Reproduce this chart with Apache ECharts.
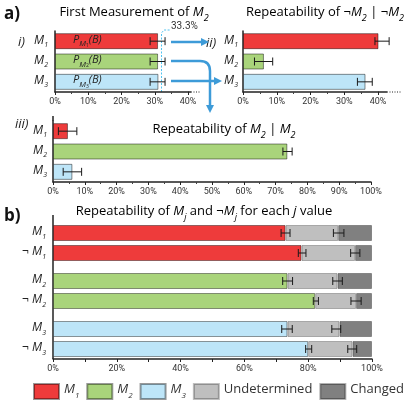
<!DOCTYPE html>
<html>
<head>
<meta charset="utf-8">
<script src="https://cdn.jsdelivr.net/npm/echarts@6/dist/echarts.min.js"></script>
<style>
  html, body { margin: 0; padding: 0; background: #fff; }
  #chart { width: 415px; height: 407px; }
</style>
</head>
<body>
<div id="chart"></div>
<script>
  // panel a) rows
  var rowsA = ['M1', 'M2', 'M3'];
  // i) first measurement of M2
  var firstVal = [31.0, 31.0, 31.1];
  var firstLow = [28.6, 28.6, 28.6];
  var firstHigh = [33.1, 33.1, 33.1];
  // ii) repeatability of notM2 | notM2
  var notVal = [41.4, 6.2, 36.3];
  var notLow = [39.1, 3.4, 33.9];
  var notHigh = [43.3, 8.8, 38.3];
  // iii) repeatability of M2 | M2
  var repVal = [4.7, 73.7, 6.1];
  var repLow = [1.7, 72.3, 3.2];
  var repHigh = [7.5, 75.2, 9.0];

  // panel b) rows
  var rowsB = ['M1', '¬M1', 'M2', '¬M2', 'M3', '¬M3'];
  var sameVal = [72.9, 77.9, 73.5, 82.2, 73.5, 80.0];
  var undetVal = [16.5, 16.8, 15.7, 12.8, 16.3, 13.9];
  var changedVal = [10.6, 5.3, 10.8, 5.0, 10.2, 6.1];
  var err1Low = [71.5, 76.9, 72.0, 81.6, 71.7, 79.2];
  var err1High = [74.3, 79.3, 75.1, 83.2, 75.0, 81.1];
  var err2Low = [87.9, 93.3, 87.7, 93.4, 87.4, 92.4];
  var err2High = [91.2, 96.2, 90.7, 96.6, 90.2, 95.2];

  var colorsM = ['#ee3b3b', '#a9d47b', '#bde5f8'];
  var colUndet = '#bfbfbf';
  var colChanged = '#808080';
  var font = 'Open Sans';

  var subRich = {
    n: { fontFamily: font, fontSize: 12, color: '#222', verticalAlign: 'top', lineHeight: 14 },
    m: { fontFamily: font, fontSize: 12, fontStyle: 'italic', color: '#222', verticalAlign: 'top', lineHeight: 14 },
    s: { fontFamily: font, fontSize: 7, fontStyle: 'italic', color: '#222', verticalAlign: 'bottom', lineHeight: 14 }
  };
  function fmtM(v) {
    var neg = v.charAt(0) === '¬';
    var s = neg ? v.slice(1) : v;
    return (neg ? '{n|¬ }' : '') + '{m|' + s.charAt(0) + '}{s|' + s.slice(1) + '}';
  }

  var myChart = echarts.init(document.getElementById('chart'));

  var grids = [
    { left: 55, top: 31, width: 133, height: 61 },
    { left: 243, top: 31, width: 135, height: 61 },
    { left: 53, top: 121, width: 318, height: 61 },
    { left: 53, top: 223, width: 319, height: 40 },
    { left: 53, top: 271, width: 319, height: 40 },
    { left: 53, top: 319, width: 319, height: 40 }
  ];

  function xAx(gi, max, show, every) {
    return {
      type: 'value', gridIndex: gi, min: 0, max: max, interval: 10,
      axisLine: { show: true, lineStyle: { color: '#222', width: 1.5 } },
      axisTick: { show: show, length: 3, lineStyle: { color: '#222' } },
      minorTick: { show: show && every === 10, splitNumber: 2, length: 2, lineStyle: { color: '#444' } },
      splitLine: { show: false },
      axisLabel: {
        show: show, margin: 5, fontSize: 9, fontFamily: 'Roboto', color: '#333',
        formatter: function (v) { return v % every === 0 ? v + '%' : ''; }
      }
    };
  }
  function yAx(gi, cats, margin, line) {
    return {
      type: 'category', gridIndex: gi, data: cats, inverse: true,
      axisLine: { show: line, lineStyle: { color: '#222', width: 1.5 } },
      axisTick: { show: false },
      axisLabel: { margin: margin, formatter: fmtM, rich: subRich }
    };
  }

  var xAxes = [
    xAx(0, 40, true, 10), xAx(1, 40, true, 10), xAx(2, 100, true, 10),
    xAx(3, 100, false, 20), xAx(4, 100, false, 20), xAx(5, 100, true, 20)
  ];
  xAxes[3].axisLine.show = false;
  xAxes[4].axisLine.show = false;
  var yAxes = [
    yAx(0, rowsA, 7, true), yAx(1, rowsA, 5, true), yAx(2, rowsA, 6, true),
    yAx(3, rowsB.slice(0, 2), 7, false), yAx(4, rowsB.slice(2, 4), 7, false), yAx(5, rowsB.slice(4, 6), 7, false)
  ];

  var border = { borderColor: 'rgba(0,0,0,0.45)', borderWidth: 1 };

  function colored(vals) {
    return vals.map(function (v, i) {
      return { value: v, itemStyle: { color: colorsM[i] } };
    });
  }
  function barA(name, gi, vals, label) {
    return {
      name: name, type: 'bar', xAxisIndex: gi, yAxisIndex: gi, barWidth: 16,
      data: colored(vals), itemStyle: border, silent: true, label: label || { show: false }
    };
  }
  function errSeries(gi, low, high) {
    return {
      type: 'custom', xAxisIndex: gi, yAxisIndex: gi, silent: true, z: 10,
      data: low.map(function (l, i) { return [i, l, high[i]]; }),
      encode: { x: [1, 2], y: 0 },
      renderItem: function (params, api) {
        var y = api.value(0);
        var a = api.coord([api.value(1), y]);
        var b = api.coord([api.value(2), y]);
        var h = 4;
        var st = { stroke: '#1a1a1a', lineWidth: 1 };
        return {
          type: 'group', children: [
            { type: 'line', shape: { x1: a[0], y1: a[1], x2: b[0], y2: b[1] }, style: st },
            { type: 'line', shape: { x1: a[0], y1: a[1] - h, x2: a[0], y2: a[1] + h }, style: st },
            { type: 'line', shape: { x1: b[0], y1: b[1] - h, x2: b[0], y2: b[1] + h }, style: st }
          ]
        };
      }
    };
  }

  var pLabel = {
    show: true, position: 'insideLeft', distance: 18,
    formatter: function (p) { return '{p|P}{s|M}{ss|' + (p.dataIndex + 1) + '}{p|(B)}'; },
    rich: {
      p: { fontFamily: font, fontSize: 11, fontStyle: 'italic', color: '#222', verticalAlign: 'top', lineHeight: 14 },
      s: { fontFamily: font, fontSize: 8, fontStyle: 'italic', color: '#222', verticalAlign: 'bottom', lineHeight: 14 },
      ss: { fontFamily: font, fontSize: 5, color: '#222', verticalAlign: 'bottom', lineHeight: 13 }
    }
  };

  var series = [
    barA('first', 0, firstVal, pLabel), errSeries(0, firstLow, firstHigh),
    barA('notRep', 1, notVal), errSeries(1, notLow, notHigh),
    barA('rep', 2, repVal), errSeries(2, repLow, repHigh)
  ];
  for (var k = 0; k < 3; k++) {
    var g = 3 + k;
    var sl = function (arr) { return arr.slice(2 * k, 2 * k + 2); };
    series.push({
      name: 'M' + (k + 1), type: 'bar', stack: 'b' + k, xAxisIndex: g, yAxisIndex: g, barWidth: 16,
      data: sl(sameVal), itemStyle: { color: colorsM[k], borderColor: 'rgba(0,0,0,0.4)', borderWidth: 1 }, silent: true
    });
    series.push({
      name: 'Undetermined', type: 'bar', stack: 'b' + k, xAxisIndex: g, yAxisIndex: g, barWidth: 16,
      data: sl(undetVal), itemStyle: { color: colUndet, borderColor: 'rgba(0,0,0,0.25)', borderWidth: 1 }, silent: true
    });
    series.push({
      name: 'Changed', type: 'bar', stack: 'b' + k, xAxisIndex: g, yAxisIndex: g, barWidth: 16,
      data: sl(changedVal), itemStyle: { color: colChanged, borderColor: 'rgba(0,0,0,0.3)', borderWidth: 1 }, silent: true
    });
    series.push(errSeries(g, sl(err1Low), sl(err1High)));
    series.push(errSeries(g, sl(err2Low), sl(err2High)));
  }

  var titleRich = {
    t: { fontFamily: font, fontSize: 13, color: '#222', verticalAlign: 'top', lineHeight: 17 },
    i: { fontFamily: font, fontSize: 13, fontStyle: 'italic', color: '#222', verticalAlign: 'top', lineHeight: 17 },
    s: { fontFamily: font, fontSize: 9, fontStyle: 'italic', color: '#222', verticalAlign: 'bottom', lineHeight: 17 }
  };
  function txt(x, y, text, rich, align) {
    return {
      type: 'text', x: x, y: y, silent: true,
      style: { text: text, rich: rich || titleRich, align: align || 'center', verticalAlign: 'middle' }
    };
  }
  var blue = '#3d9bd8';
  var arrowStyle = { stroke: blue, lineWidth: 2.5, fill: null };

  var graphics = [
    { type: 'text', x: 4, y: 14, style: { text: 'a)', fontFamily: font, fontSize: 17, fontWeight: 'bold', fill: '#111', verticalAlign: 'middle' } },
    { type: 'text', x: 4, y: 216, style: { text: 'b)', fontFamily: font, fontSize: 17, fontWeight: 'bold', fill: '#111', verticalAlign: 'middle' } },
    txt(134, 14, '{t|First Measurement of }{i|M}{s|2}'),
    txt(325, 14, '{t|Repeatability of ¬}{i|M}{s|2}{t| | ¬}{i|M}{s|2}'),
    txt(224, 131, '{t|Repeatability of }{i|M}{s|2}{t| | }{i|M}{s|2}'),
    txt(204, 213, '{t|Repeatability of }{i|M}{s|j}{t| and ¬}{i|M}{s|j}{t| for each }{i|j}{t| value}'),
    { type: 'text', x: 18, y: 42, style: { text: 'i)', font: 'italic 13px "Open Sans"', fill: '#222', verticalAlign: 'middle' } },
    { type: 'text', x: 206, y: 43, style: { text: 'ii)', font: 'italic 13px "Open Sans"', fill: '#222', verticalAlign: 'middle' } },
    { type: 'text', x: 15, y: 124, style: { text: 'iii)', font: 'italic 13px "Open Sans"', fill: '#222', verticalAlign: 'middle' } },
    // 33.3% guide
    { type: 'polyline', shape: { points: [[161.5, 92], [161.5, 33], [164, 30], [171, 30]] }, style: { stroke: '#4fc3f0', lineWidth: 1, lineDash: [2, 1.5], fill: null } },
    { type: 'text', x: 171, y: 26, style: { text: '33.3%', fontFamily: 'Roboto', fontSize: 10, fill: '#333', verticalAlign: 'middle' } },
    // broken axis ends
    { type: 'line', shape: { x1: 188, y1: 92, x2: 191, y2: 92 }, style: { stroke: '#222', lineWidth: 1.5 } },
    { type: 'line', shape: { x1: 191, y1: 92, x2: 201, y2: 92 }, style: { stroke: '#222', lineWidth: 1, lineDash: [1, 1.5] } },
    { type: 'line', shape: { x1: 378, y1: 92, x2: 387, y2: 92 }, style: { stroke: '#222', lineWidth: 1.5 } },
    { type: 'line', shape: { x1: 387, y1: 92, x2: 402, y2: 92 }, style: { stroke: '#222', lineWidth: 1, lineDash: [1, 1.5] } },
    // panel iii axis top and panel b axis
    { type: 'line', shape: { x1: 53, y1: 116, x2: 53, y2: 121 }, style: { stroke: '#222', lineWidth: 1.5 } },
    { type: 'line', shape: { x1: 53, y1: 215, x2: 53, y2: 359 }, style: { stroke: '#222', lineWidth: 1.5 } },
    // arrows
    { type: 'line', shape: { x1: 171, y1: 42, x2: 202, y2: 42 }, style: arrowStyle },
    { type: 'polygon', shape: { points: [[201, 38], [209, 42], [201, 46]] }, style: { fill: blue } },
    { type: 'line', shape: { x1: 171, y1: 61, x2: 200, y2: 61 }, style: arrowStyle },
    { type: 'bezierCurve', shape: { x1: 200, y1: 61, x2: 210, y2: 71, cpx1: 210, cpy1: 61 }, style: arrowStyle },
    { type: 'line', shape: { x1: 210, y1: 71, x2: 210, y2: 106 }, style: arrowStyle },
    { type: 'polygon', shape: { points: [[206, 105], [210, 113], [214, 105]] }, style: { fill: blue } },
    { type: 'line', shape: { x1: 171, y1: 81, x2: 215, y2: 81 }, style: arrowStyle },
    { type: 'polygon', shape: { points: [[214, 77], [222, 81], [214, 85]] }, style: { fill: blue } }
  ];

  var option = {
    animation: false,
    grid: grids,
    xAxis: xAxes,
    yAxis: yAxes,
    legend: {
      data: ['M1', 'M2', 'M3', 'Undetermined', 'Changed'],
      left: 33, top: 383, padding: 0, itemWidth: 25, itemHeight: 15, itemGap: 7, icon: 'rect',
      selectedMode: false,
      formatter: function (name) {
        return name.charAt(0) === 'M' && name.length === 2 ? '{m|M}{s|' + name.charAt(1) + '}' : '{t|' + name + '}';
      },
      textStyle: {
        rich: {
          t: { fontFamily: font, fontSize: 13, color: '#333', verticalAlign: 'top', lineHeight: 17 },
          m: { fontFamily: font, fontSize: 13, fontStyle: 'italic', color: '#333', verticalAlign: 'top', lineHeight: 17 },
          s: { fontFamily: font, fontSize: 8, fontStyle: 'italic', color: '#333', verticalAlign: 'bottom', lineHeight: 17 }
        }
      }
    },
    graphic: graphics,
    series: series
  };
  myChart.setOption(option);
</script>
</body>
</html>
